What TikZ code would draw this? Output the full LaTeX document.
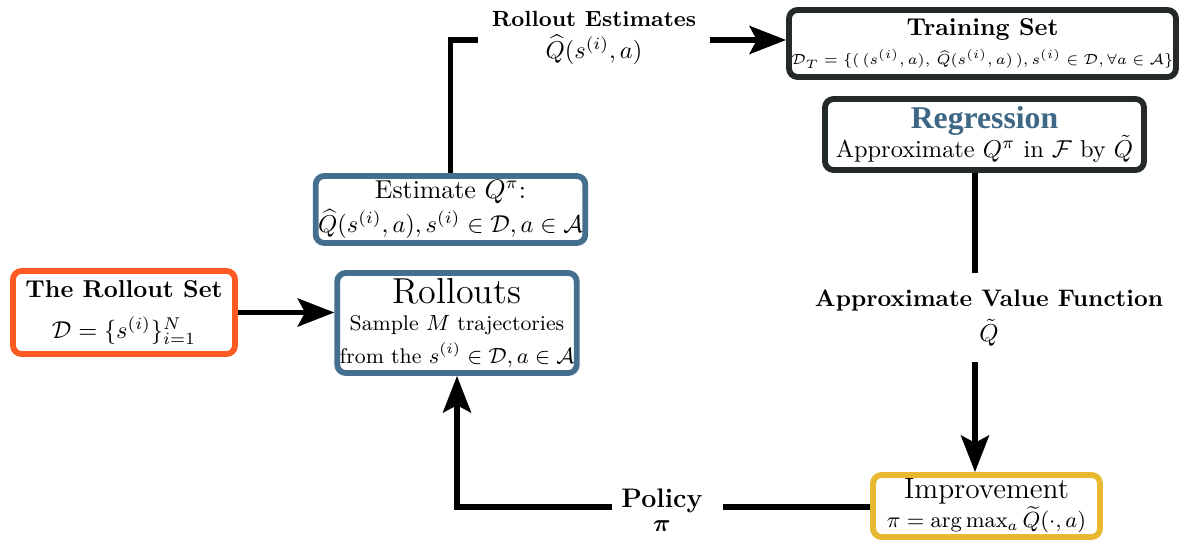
\documentclass[tikz,border=0pt]{standalone}
\usepackage{amsmath,amssymb,bm}
\usepackage{fontspec}
\newfontfamily\regfont{Liberation Serif}
\usetikzlibrary{arrows.meta}
\definecolor{cOrange}{HTML}{FF5A24}
\definecolor{cBlue}{HTML}{456F8F}
\definecolor{cRegBlue}{HTML}{3D6785}
\definecolor{cDark}{HTML}{242A2A}
\definecolor{cYellow}{HTML}{E8B830}
\newcommand{\pxu}{0.41pt}
\begin{document}
\begin{tikzpicture}[x=0.41pt,y=-0.41pt,
  box/.style={draw, line width=2.4pt, rounded corners=3.5pt, fill=white, align=center, inner sep=1pt},
  conn/.style={line width=2.1pt},
  arr/.style={conn, -{Stealth[length=15pt,width=11.5pt,inset=3pt]}},
  lbl/.style={align=center, inner sep=0pt}]
\useasboundingbox (0,0) rectangle (1183,543);
\node[box, draw=cOrange, minimum width={222*\pxu}, minimum height={83*\pxu}] (rs) at (124,312.5)
  {\textbf{The Rollout Set}\\[5pt] $\mathcal{D}=\{s^{(i)}\}_{i=1}^{N}$};
\node[box, draw=cBlue, minimum width={232*\pxu}, minimum height={100*\pxu}] (ro) at (457,323)
  {{\fontsize{14.8}{17}\selectfont Rollouts}\\[-1pt] {\fontsize{8.7}{10.5}\selectfont Sample $M$ trajectories}\\[1.5pt] {\fontsize{8.7}{10.5}\selectfont from the $s^{(i)}\in\mathcal{D},a\in\mathcal{A}$}};
\node[box, draw=cBlue, minimum width={269*\pxu}, minimum height={67*\pxu}] (es) at (450.5,209.5)
  {{\fontsize{10.6}{12.5}\selectfont Estimate $Q^{\pi}$:}\\[2pt] {\fontsize{9.7}{11.5}\selectfont $\widehat{Q}(s^{(i)},a),s^{(i)}\in\mathcal{D},a\in\mathcal{A}$}};
\node[box, draw=cDark, minimum width={369*\pxu}, minimum height={67*\pxu}] (ts) at (982.5,43.5)
  {\textbf{Training Set}\\[0pt] {\fontsize{6}{7}\selectfont $\mathcal{D}_T=\{(\,(s^{(i)},a),\,\widehat{Q}(s^{(i)},a)\,),s^{(i)}\in\mathcal{D},\forall a\in\mathcal{A}\}$}};
\node[box, draw=cDark, minimum width={319*\pxu}, minimum height={71*\pxu}] (rg) at (984.5,134.5)
  {{\regfont\fontsize{13}{15}\selectfont\bfseries\color{cRegBlue}Regression}\\[-1pt] Approximate $Q^{\pi}$ in $\mathcal{F}$ by $\tilde{Q}$};
\node[box, draw=cYellow, minimum width={227*\pxu}, minimum height={62*\pxu}] (im) at (986.5,506)
  {{\large Improvement}\\[0pt] {\small $\pi=\arg\max_a\widetilde{Q}(\cdot,a)$}};
\node[lbl] (re) at (594,38) {{\small\textbf{Rollout Estimates}}\\[1pt] $\widehat{Q}(s^{(i)},a)$};
\node[lbl] (av) at (989,318) {{\fontsize{9.8}{12}\selectfont\bfseries Approximate Value Function}\\[2.5pt] $\tilde{Q}$};
\node[lbl] (po) at (662,510) {{\fontsize{11}{13}\selectfont\bfseries Policy}\\[-2pt] $\bm{\pi}$};
\coordinate (reL) at (478,40);
\coordinate (reR) at (710,40);
\coordinate (avT) at (975,273);
\coordinate (avB) at (975,362);
\coordinate (poR) at (723,507);
\coordinate (poL) at (612,507);
\draw[arr] (rs.east) -- (rs.east -| ro.west);
\draw[conn] (es.north) |- (reL);
\draw[arr] (reR) -- (reR -| ts.west);
\draw[conn] (rg.south -| avT) -- (avT);
\draw[arr] (avB) -- (im.north -| avB);
\draw[conn] (im.west |- poR) -- (poR);
\draw[arr] (poL) -| (ro.south);
\end{tikzpicture}
\end{document}
